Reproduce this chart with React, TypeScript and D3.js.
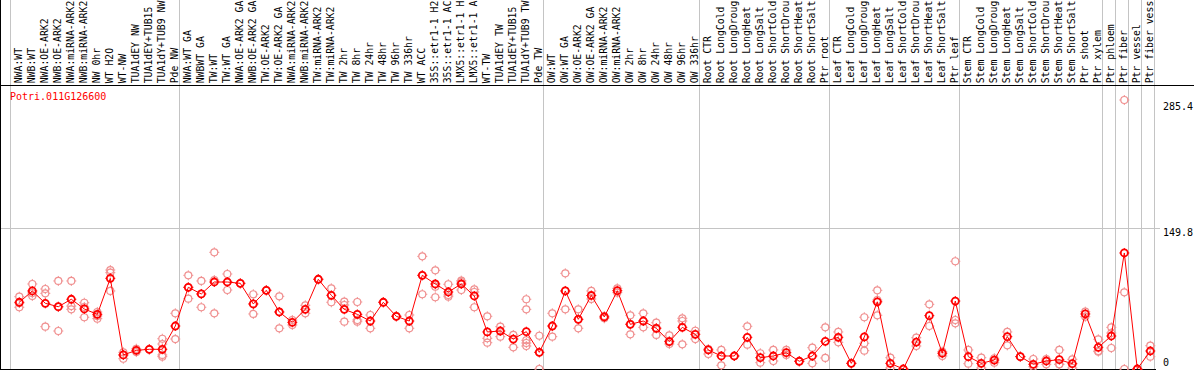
import React, { useRef, useEffect } from 'react';
import * as d3 from 'd3';

const geneId = 'Potri.011G126600';

const labels = [
  'NWA:WT', 'NWB:WT', 'NWA:OE-ARK2', 'NWB:OE-ARK2', 'NWA:miRNA-ARK2', 'NWB:miRNA-ARK2', 'NW 0hr', 'WT H2O', 'WT-NW',
  'TUA1dEY NW', 'TUA1dEY+TUB15', 'TUA1dY+TUB9 NW', 'Pde NW',
  'NWA:WT GA', 'NWBWT GA', 'TW:WT', 'TW:WT GA', 'NWA:OE-ARK2 GA', 'NWB:OE-ARK2 GA', 'TW:OE-ARK2', 'TW:OE-ARK2 GA',
  'NWA:miRNA-ARK2', 'NWB:miRNA-ARK2', 'TW:miRNA-ARK2', 'TW:miRNA-ARK2', 'TW 2hr', 'TW 8hr', 'TW 24hr', 'TW 48hr',
  'TW 96hr', 'TW 336hr', 'WT ACC', '35S::etr1-1 H2O', '35S::etr1-1 ACC', 'LMX5::etr1-1 H2O', 'LMX5::etr1-1 ACC',
  'WT-TW', 'TUA1dEY TW', 'TUA1dEY+TUB15 TW', 'TUA1dY+TUB9 TW', 'Pde TW',
  'OW:WT', 'OW:WT GA', 'OW:OE-ARK2', 'OW:OE-ARK2 GA', 'OW:miRNA-ARK2', 'OW:miRNA-ARK2', 'OW 2hr', 'OW 8hr',
  'OW 24hr', 'OW 48hr', 'OW 96hr', 'OW 336hr',
  'Root CTR', 'Root LongCold', 'Root LongDrought', 'Root LongHeat', 'Root LongSalt', 'Root ShortCold',
  'Root ShortDrought', 'Root ShortHeat', 'Root ShortSalt', 'Ptr root',
  'Leaf CTR', 'Leaf LongCold', 'Leaf LongDrought', 'Leaf LongHeat', 'Leaf LongSalt', 'Leaf ShortCold',
  'Leaf ShortDrought', 'Leaf ShortHeat', 'Leaf ShortSalt', 'Ptr leaf',
  'Stem CTR', 'Stem LongCold', 'Stem LongDrought', 'Stem LongHeat', 'Stem LongSalt', 'Stem ShortCold',
  'Stem ShortDrought', 'Stem ShortHeat', 'Stem ShortSalt', 'Ptr shoot', 'Ptr xylem',
  'Ptr phloem', 'Ptr fiber', 'Ptr vessel', 'Ptr fiber vessel'
];

const means = [
  70.8, 82.8, 69.7, 66.1, 74.0, 63.7, 58.0, 96.2, 14.9, 19.8, 20.9, 20.9, 45.6,
  86.7, 79.6, 92.3, 92.3, 90.9, 69.0, 83.5, 60.5, 49.5, 63.3, 95.2, 78.2, 63.3, 58.0, 50.9, 70.8,
  55.9, 50.9, 99.4, 90.2, 81.7, 90.2, 77.5, 39.3, 40.3, 31.8, 39.6, 17.7,
  45.6, 82.8, 52.7, 78.0, 55.2, 83.1, 47.4, 50.9, 43.2, 29.0, 44.2, 36.8,
  20.2, 13.8, 13.8, 33.6, 12.0, 13.8, 17.3, 8.2, 13.8, 29.4,
  33.6, 6.0, 34.0, 71.3, 6.0, 0, 28.6, 56.6, 16.7, 72.1,
  13.1, 6.0, 9.5, 34.3, 13.1, 5.0, 8.5, 9.9, 5.6, 58.4, 23.0,
  35.0, 123.1, 0, 19.1
];

const replicates = [
  [76.7, 65.5, 70.0], [90.2, 77.5, 80.6], [84.9, 80.3, 44.9], [93.4, 40.3, 65.8], [93.4, 66.8, 63.3],
  [70.3, 54.9, 65.8], [60.5, 56.2, 53.4], [105.0, 102.2, 82.8], [17.7, 10.9, 14.9], [21.5, 18.0],
  [20.9, 20.9], [32.1, 26.5, 14.9, 13.1], [59.1, 31.8],
  [99.4, 74.6, 86.7], [93.4, 65.5, 79.6], [123.8, 59.1, 94.4], [100.8, 83.8, 92.3], [90.9, 90.9],
  [79.3, 58.4, 69.0], [83.5, 83.5], [77.1, 43.2, 60.5], [52.0, 46.7], [67.6, 59.1], [95.2, 95.2],
  [85.6, 70.8], [71.4, 50.2, 67.9], [71.1, 52.0, 50.2], [57.3, 43.2], [70.8, 70.8], [55.9, 55.9],
  [57.3, 43.2], [119.5, 79.3, 99.4], [104.7, 76.1, 87.3], [89.9, 76.7, 78.5], [93.7, 83.8, 92.3],
  [84.5, 65.5, 81.7], [55.9, 32.6, 27.9], [44.9, 34.3], [36.1, 23.0], [74.0, 63.3, 30.5, 27.6, 24.4],
  [35.3, 0, 17.7],
  [59.1, 34.3, 45.6], [101.5, 63.3, 82.8], [63.3, 43.2, 52.7], [82.8, 74.3], [56.2, 53.8], [85.6, 81.0],
  [57.0, 36.8, 47.7], [59.1, 44.2, 50.9], [49.1, 36.1, 43.5], [35.7, 26.5, 29.7], [53.8, 50.9, 26.2],
  [40.6, 31.8],
  [21.2, 15.9], [20.2, 3.9], [13.8, 13.8], [45.3, 25.8], [16.7, 6.7], [20.2, 8.5], [20.2, 14.9],
  [8.2, 8.2], [22.6, 6.0], [44.2, 11.7],
  [39.3, 28.3], [6.0, 6.0], [54.9, 27.3, 19.4], [83.5, 73.2, 57.0], [12.0, 1.1], [0, 0], [33.2, 24.4],
  [68.6, 45.6], [18.4, 13.8], [114.3, 52.0, 48.5],
  [20.2, 5.6], [12.0, 1.1], [11.4, 6.7], [39.3, 25.1], [13.1, 13.1], [10.6, 2.4], [10.6, 5.0],
  [20.2, 5.0, 5.0], [10.3, 1.1], [60.8, 55.5], [31.5, 19.1, 18.4],
  [44.2, 22.3, 38.2], [285.4, 81.4, 0], [0, 0], [24.7, 13.1]
];

// first column of each group (a gray divider is drawn before it)
const groupStarts = [0, 13, 41, 53, 63, 73, 84, 85, 86, 87];

const yMax = 285.4;
const yMid = 149.8;

// header only has room for 14 characters
const maxChars = 14;

function App() {
  const chartRef = useRef<SVGSVGElement>(null);

  useEffect(() => {
    drawChart();
  }, []);

  const drawChart = () => {
    const svgWidth = 1194;
    const svgHeight = 370;
    const font = '"DejaVu Sans Mono", monospace';

    const svg = d3.select(chartRef.current);
    svg.selectAll('*').remove();
    svg.attr('width', svgWidth).attr('height', svgHeight);

    const xBand = d3.scaleBand<number>()
      .domain(d3.range(labels.length))
      .range([11, 11 + labels.length * 13])
      .padding(0);
    const xPos = (i: number) => (xBand(i) as number) + 8.3;

    const yScale = d3.scaleLinear().domain([0, yMax]).range([369, 100]);

    // gray dividers
    const dividers = groupStarts.map(i => xBand(i) as number).concat([xBand.range()[1]]);
    svg.append('g')
      .selectAll('line')
      .data(dividers)
      .enter().append('line')
      .attr('x1', d => d - 0.5)
      .attr('x2', d => d - 0.5)
      .attr('y1', 0)
      .attr('y2', svgHeight)
      .attr('stroke', '#c4c4c4')
      .attr('stroke-width', 1);

    // gridline at mid value
    svg.append('line')
      .attr('x1', 0)
      .attr('x2', 1160)
      .attr('y1', Math.round(yScale(yMid)) + 0.5)
      .attr('y2', Math.round(yScale(yMid)) + 0.5)
      .attr('stroke', '#c4c4c4');

    // frame
    svg.append('line')
      .attr('x1', 0).attr('x2', svgWidth)
      .attr('y1', 85.5).attr('y2', 85.5)
      .attr('stroke', 'black');
    svg.append('line')
      .attr('x1', 0.5).attr('x2', 0.5)
      .attr('y1', 0).attr('y2', svgHeight)
      .attr('stroke', 'black');
    svg.append('line')
      .attr('x1', 0).attr('x2', 1156)
      .attr('y1', 369.5).attr('y2', 369.5)
      .attr('stroke', 'black');

    // column labels
    svg.append('g')
      .selectAll('text')
      .data(labels)
      .enter().append('text')
      .attr('transform', (d, i) => `translate(${xPos(i) + 2.6},83.3) rotate(-90)`)
      .attr('font-family', font)
      .attr('font-size', 9.8)
      .attr('fill', 'black')
      .text(d => d.slice(0, maxChars).trimEnd());

    // gene id
    svg.append('text')
      .attr('x', 10)
      .attr('y', 100)
      .attr('font-family', font)
      .attr('font-size', 10)
      .attr('fill', 'red')
      .text(geneId);

    // y labels on the right
    const yLabels = [
      { v: yMax, t: '285.4', dy: 10 },
      { v: yMid, t: '149.8', dy: 8 },
      { v: 0, t: '0', dy: -3 }
    ];
    svg.append('g')
      .selectAll('text')
      .data(yLabels)
      .enter().append('text')
      .attr('x', 1163)
      .attr('y', d => yScale(d.v) + d.dy)
      .attr('font-family', font)
      .attr('font-size', 10)
      .attr('fill', 'black')
      .text(d => d.t);

    const marker = (g: any, x: number, y: number, color: string, sw: number) => {
      const r = 3.5;
      g.append('circle')
        .attr('cx', x).attr('cy', y).attr('r', r)
        .attr('fill', 'none')
        .attr('stroke', color)
        .attr('stroke-width', sw);
      g.append('path')
        .attr('d', `M${x},${y - r - 1.5}V${y - r}M${x},${y + r}V${y + r + 1.5}M${x - r - 1.5},${y}H${x - r}M${x + r},${y}H${x + r + 1.5}`)
        .attr('stroke', color)
        .attr('stroke-width', 1)
        .attr('fill', 'none');
    };

    // replicate points
    const repG = svg.append('g');
    replicates.forEach((reps, i) => {
      reps.forEach(v => marker(repG, xPos(i), yScale(v), '#f09090', 1.2));
    });

    // mean line
    const line = d3.line<number>()
      .x((d, i) => xPos(i))
      .y(d => yScale(d));
    svg.append('path')
      .datum(means)
      .attr('fill', 'none')
      .attr('stroke', 'red')
      .attr('stroke-width', 1)
      .attr('d', line);

    const meanG = svg.append('g');
    means.forEach((v, i) => marker(meanG, xPos(i), yScale(v), 'red', 1.8));
  };

  return (
    <div style={{ position: 'absolute', left: 0, top: 0 }}>
      <svg ref={chartRef} style={{ display: 'block', background: 'white' }}></svg>
    </div>
  );
}

export default App;
